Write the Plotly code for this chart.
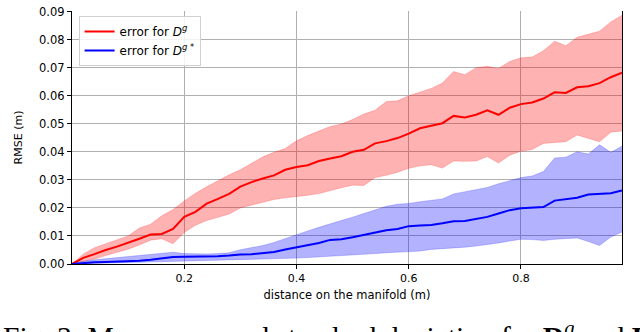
import plotly.graph_objects as go

# distance on the manifold (m)
distance = [0.00, 0.02, 0.04, 0.06, 0.08, 0.10, 0.12, 0.14, 0.16, 0.18,
            0.20, 0.22, 0.24, 0.26, 0.28, 0.30, 0.32, 0.34, 0.36, 0.38,
            0.40, 0.42, 0.44, 0.46, 0.48, 0.50, 0.52, 0.54, 0.56, 0.58,
            0.60, 0.62, 0.64, 0.66, 0.68, 0.70, 0.72, 0.74, 0.76, 0.78,
            0.80, 0.82, 0.84, 0.86, 0.88, 0.90, 0.92, 0.94, 0.96, 0.98]

# error for D^g : mean, upper and lower edge of the std band
err_g = [0.0, 0.0022, 0.0035, 0.0050, 0.0062, 0.0075, 0.0090, 0.0105, 0.0107, 0.0125,
         0.0168, 0.0186, 0.0215, 0.0232, 0.0250, 0.0276, 0.0292, 0.0305, 0.0316, 0.0336,
         0.0346, 0.0352, 0.0367, 0.0376, 0.0384, 0.0400, 0.0407, 0.0430, 0.0438, 0.0449,
         0.0465, 0.0484, 0.0494, 0.0502, 0.0528, 0.0522, 0.0532, 0.0548, 0.0532, 0.0557,
         0.0570, 0.0576, 0.0590, 0.0612, 0.0610, 0.0630, 0.0634, 0.0645, 0.0666, 0.0682]
err_g_hi = [0.0, 0.0035, 0.0058, 0.0072, 0.0086, 0.0100, 0.0128, 0.0142, 0.0172, 0.0194,
            0.0225, 0.0252, 0.0275, 0.0298, 0.0318, 0.0336, 0.0358, 0.0382, 0.0398, 0.0412,
            0.0439, 0.0458, 0.0474, 0.0490, 0.0499, 0.0515, 0.0535, 0.0548, 0.0579, 0.0582,
            0.0600, 0.0614, 0.0626, 0.0645, 0.0686, 0.0675, 0.0700, 0.0705, 0.0697, 0.0722,
            0.0735, 0.0738, 0.0760, 0.0794, 0.0778, 0.0808, 0.0818, 0.0830, 0.0863, 0.0887]
err_g_lo = [0.0, 0.0008, 0.0018, 0.0030, 0.0042, 0.0053, 0.0068, 0.0085, 0.0090, 0.0072,
            0.0112, 0.0138, 0.0155, 0.0166, 0.0178, 0.0200, 0.0210, 0.0219, 0.0230, 0.0236,
            0.0240, 0.0245, 0.0251, 0.0262, 0.0272, 0.0281, 0.0280, 0.0308, 0.0316, 0.0327,
            0.0341, 0.0350, 0.0354, 0.0342, 0.0367, 0.0366, 0.0367, 0.0383, 0.0360, 0.0388,
            0.0402, 0.0408, 0.0430, 0.0433, 0.0436, 0.0460, 0.0448, 0.0436, 0.0470, 0.0474]

# error for D^g* : mean, upper and lower edge of the std band
err_gs = [0.0, 0.0004, 0.0006, 0.0007, 0.0008, 0.0010, 0.0012, 0.0015, 0.0020, 0.0025,
          0.0026, 0.0026, 0.0027, 0.0028, 0.0030, 0.0034, 0.0035, 0.0038, 0.0043, 0.0052,
          0.0059, 0.0066, 0.0075, 0.0086, 0.0088, 0.0095, 0.0103, 0.0112, 0.0120, 0.0125,
          0.0135, 0.0137, 0.0139, 0.0145, 0.0152, 0.0153, 0.0161, 0.0168, 0.0180, 0.0192,
          0.0199, 0.0202, 0.0203, 0.0226, 0.0232, 0.0236, 0.0248, 0.0250, 0.0252, 0.0262]
err_gs_hi = [0.0, 0.0010, 0.0015, 0.0019, 0.0022, 0.0026, 0.0030, 0.0033, 0.0038, 0.0042,
             0.0037, 0.0036, 0.0036, 0.0037, 0.0040, 0.0051, 0.0058, 0.0066, 0.0077, 0.0091,
             0.0106, 0.0118, 0.0131, 0.0144, 0.0155, 0.0167, 0.0180, 0.0194, 0.0206, 0.0213,
             0.0216, 0.0222, 0.0226, 0.0232, 0.0250, 0.0257, 0.0265, 0.0273, 0.0286, 0.0298,
             0.0308, 0.0314, 0.0330, 0.0378, 0.0381, 0.0400, 0.0392, 0.0425, 0.0398, 0.0420]
err_gs_lo = [0.0, 0.0001, 0.0002, 0.0002, 0.0003, 0.0004, 0.0005, 0.0007, 0.0009, 0.0010,
             0.0011, 0.0012, 0.0012, 0.0013, 0.0014, 0.0015, 0.0017, 0.0018, 0.0019, 0.0020,
             0.0021, 0.0023, 0.0025, 0.0027, 0.0029, 0.0031, 0.0034, 0.0037, 0.0040, 0.0042,
             0.0043, 0.0046, 0.0052, 0.0054, 0.0057, 0.0060, 0.0064, 0.0069, 0.0075, 0.0082,
             0.0088, 0.0087, 0.0084, 0.0088, 0.0090, 0.0093, 0.0080, 0.0066, 0.0096, 0.0114]

y_ticks = [0.00, 0.01, 0.02, 0.03, 0.04, 0.05, 0.06, 0.07, 0.08, 0.09]
x_ticks = [0.2, 0.4, 0.6, 0.8]

FONT = "DejaVu Sans"

fig = go.Figure()


def add_band(lo, hi, edge, fill):
    # matplotlib style fill_between: lower edge then upper edge filled to it
    fig.add_trace(go.Scatter(x=distance, y=lo, mode="lines", line=dict(color=edge, width=0.8),
                             showlegend=False, hoverinfo="skip"))
    fig.add_trace(go.Scatter(x=distance, y=hi, mode="lines", line=dict(color=edge, width=0.8),
                             fill="tonexty", fillcolor=fill, showlegend=False, hoverinfo="skip"))


add_band(err_g_lo, err_g_hi, "rgba(255,0,0,0.25)", "rgba(255,0,0,0.3)")
add_band(err_gs_lo, err_gs_hi, "rgba(0,0,255,0.25)", "rgba(0,0,255,0.3)")

fig.add_trace(go.Scatter(x=distance, y=err_g, mode="lines", line=dict(color="#ff0000", width=2),
                         name="error for <i>D</i><sup><i>g</i></sup>"))
fig.add_trace(go.Scatter(x=distance, y=err_gs, mode="lines", line=dict(color="#0000ff", width=2),
                         name="error for <i>D</i><sup><i>g</i> *</sup>"))

# caption of the paper figure, cut off by the bottom of the picture
fig.add_annotation(
    text="Fig. 3: Mean error and standard deviation for <b>D</b><sup><i>g</i></sup> and <b>D</b><sup><i>g</i>*</sup>",
    xref="paper", yref="paper", x=-0.13, y=0, xanchor="left", yanchor="top", yshift=-51,
    showarrow=False, font=dict(family="Liberation Serif", size=29.5, color="black"))

fig.update_xaxes(range=[0, 0.98], tickvals=x_ticks, ticktext=["0.2", "0.4", "0.6", "0.8"],
                 showgrid=True, gridcolor="#b0b0b0", gridwidth=1,
                 showline=True, linecolor="black", linewidth=1.2, mirror=False,
                 ticks="outside", ticklen=4, tickcolor="black",
                 tickfont=dict(family=FONT, size=11, color="black"),
                 title=dict(text="distance on the manifold (m)", standoff=6,
                            font=dict(family=FONT, size=11.5, color="black")),
                 zeroline=False)
fig.update_yaxes(range=[0, 0.0902], tickvals=y_ticks, tickformat=".2f",
                 ticklabeloverflow="allow",
                 showgrid=True, gridcolor="#b0b0b0", gridwidth=1,
                 showline=True, linecolor="black", linewidth=1.2, mirror=True,
                 ticks="outside", ticklen=4, tickcolor="black",
                 tickfont=dict(family=FONT, size=11.5, color="black"),
                 title=dict(text="RMSE (m)", standoff=14,
                            font=dict(family=FONT, size=11, color="black")),
                 zeroline=False)

fig.update_layout(
    width=640, height=332,
    margin=dict(l=72, r=18, t=5, b=68),
    plot_bgcolor="white", paper_bgcolor="white",
    legend=dict(x=0.012, y=0.98, xanchor="left", yanchor="top", traceorder="normal",
                bgcolor="rgba(255,255,255,0.85)", bordercolor="#d0d0d0", borderwidth=1,
                font=dict(family=FONT, size=12, color="black"), tracegroupgap=0),
)

fig.write_html("out.html", config={"displayModeBar": False},
               post_script="document.body.style.margin='0';")
